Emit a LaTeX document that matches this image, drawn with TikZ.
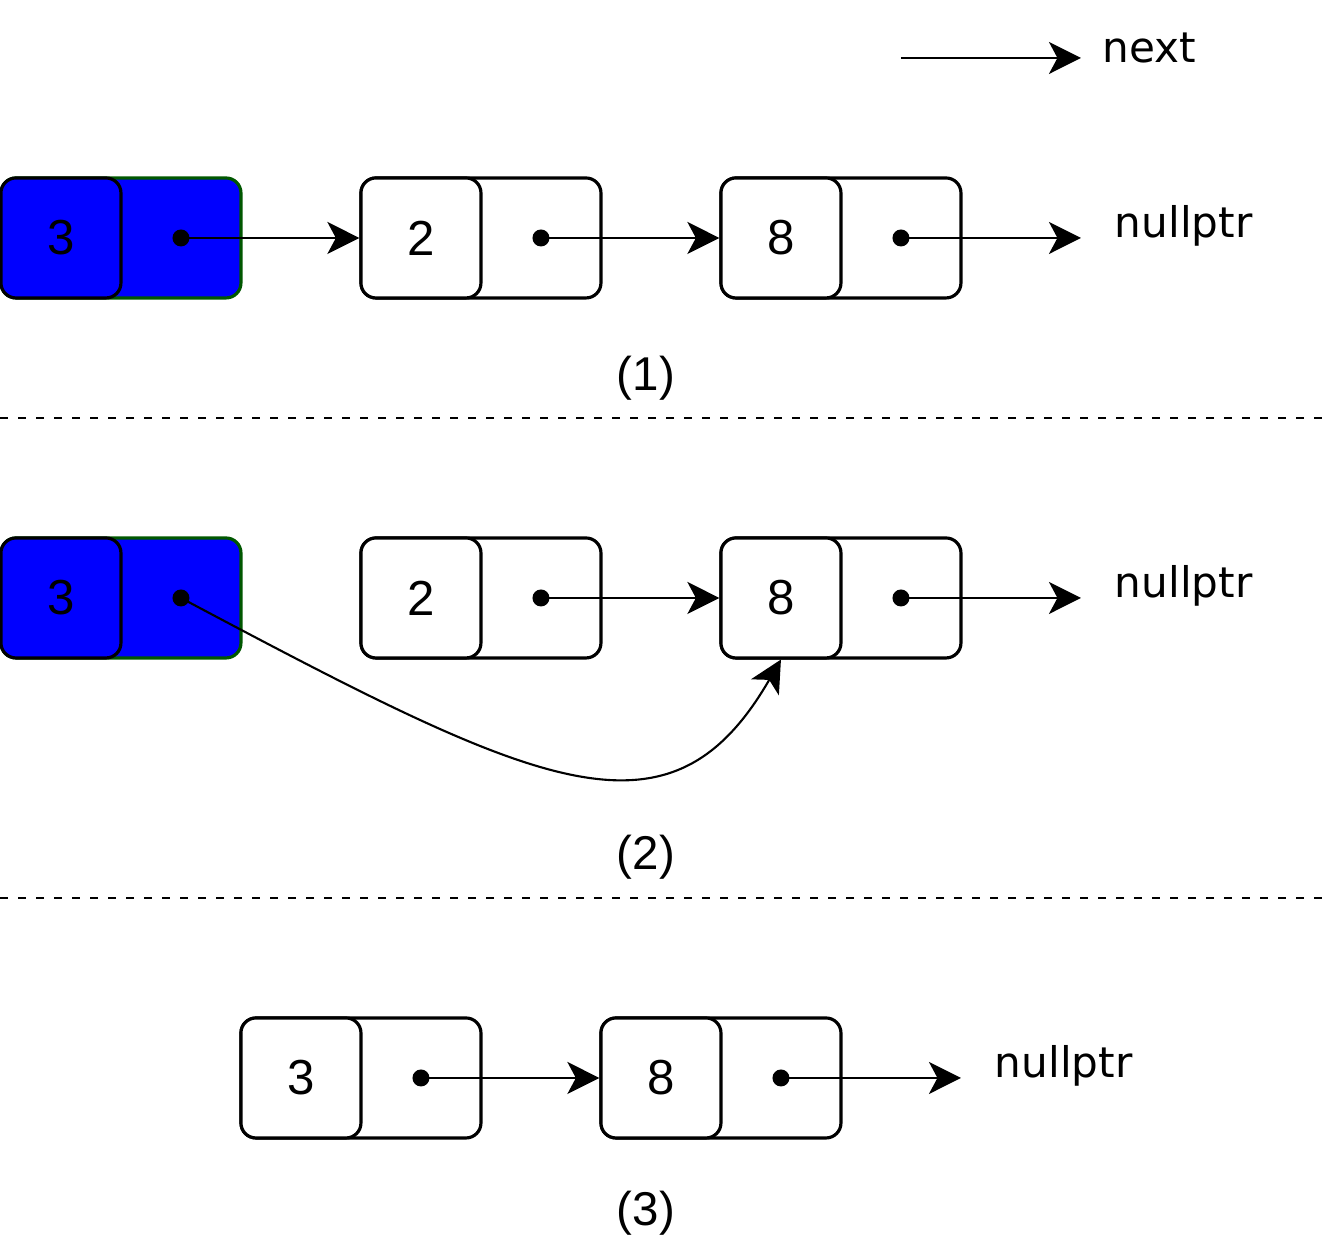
\documentclass[tikz,border=0pt]{standalone}
\usepackage{fontspec}
\setmainfont{Liberation Sans}
\newfontfamily\labelfont{DejaVu Sans}
\usetikzlibrary{arrows.meta}

\definecolor{nodeblue}{HTML}{0000FF}
\definecolor{nodegreen}{HTML}{005700}

\tikzset{
    cell/.style={draw=black, fill=white, line width=1.8pt, rounded corners=0.3cm, minimum width=4.8cm, minimum height=2.4cm},
    val/.style={draw=black, fill=white, line width=1.8pt, rounded corners=0.3cm, minimum size=2.4cm, font=\fontsize{28}{32}\selectfont},
    ptr/.style={circle, fill=black, inner sep=0pt, minimum size=0.34cm},
    link/.style={line width=1.2pt, -{Stealth[length=0.64cm, width=0.64cm, inset=0.17cm]}},
    nulltext/.style={anchor=base west, inner sep=0pt, font=\labelfont\fontsize{24}{28}\selectfont},
    steplabel/.style={font=\fontsize{27}{30}\selectfont},
    sep/.style={line width=1.5pt, dash pattern=on 0.16cm off 0.2cm}
}

\begin{document}
\begin{tikzpicture}[x=2.4cm, y=2.4cm]
    \useasboundingbox (-0.008, 1.983) rectangle (11.067, -8.492);

    % legend
    \coordinate (legA) at (7.5, 1.5);
    \coordinate (legB) at (9, 1.5);
    \node[nulltext] (next) at (9.18, 1.46) {next};
    \draw[link] (legA) -- (legB);

    % (1)
    \node[cell, fill=nodeblue, draw=nodegreen] (n3) at (1, 0) {};
    \node[val, fill=nodeblue] (n3v) at (0.5, 0) {3};
    \node[ptr] (n3p) at (1.5, 0) {};
    \node[cell] (n2) at (4, 0) {};
    \node[val] (n2v) at (3.5, 0) {2};
    \node[ptr] (n2p) at (4.5, 0) {};
    \node[cell] (n8) at (7, 0) {};
    \node[val] (n8v) at (6.5, 0) {8};
    \node[ptr] (n8p) at (7.5, 0) {};
    \coordinate (n8end) at (9, 0);
    \node[nulltext] (null1) at (9.28, 0) {nullptr};
    \node[steplabel] (lab1) at (5.375, -1.167) {(1)};

    \draw[link] (n3p.center) -- (n2.west);
    \draw[link] (n2p.center) -- (n8.west);
    \draw[link] (n8p.center) -- (n8end);

    \draw[sep] (-0.008, -1.5) -- (11.067, -1.5);

    % (2)
    \node[cell, fill=nodeblue, draw=nodegreen] (m3) at (1, -3) {};
    \node[val, fill=nodeblue] (m3v) at (0.5, -3) {3};
    \node[ptr] (m3p) at (1.5, -3) {};
    \node[cell] (m2) at (4, -3) {};
    \node[val] (m2v) at (3.5, -3) {2};
    \node[ptr] (m2p) at (4.5, -3) {};
    \node[cell] (m8) at (7, -3) {};
    \node[val] (m8v) at (6.5, -3) {8};
    \node[ptr] (m8p) at (7.5, -3) {};
    \coordinate (m8end) at (9, -3);
    \node[nulltext] (null2) at (9.28, -3) {nullptr};
    \node[steplabel] (lab2) at (5.375, -5.157) {(2)};

    \draw[link] (m3p.center) .. controls +(-28:3.4) and +(-120:1.85) .. (m8v.south);
    \draw[link] (m2p.center) -- (m8.west);
    \draw[link] (m8p.center) -- (m8end);

    \draw[sep] (-0.008, -5.5) -- (11.067, -5.5);

    % (3)
    \node[cell] (k3) at (3, -7) {};
    \node[val] (k3v) at (2.5, -7) {3};
    \node[ptr] (k3p) at (3.5, -7) {};
    \node[cell] (k8) at (6, -7) {};
    \node[val] (k8v) at (5.5, -7) {8};
    \node[ptr] (k8p) at (6.5, -7) {};
    \coordinate (k8end) at (8, -7);
    \node[nulltext] (null3) at (8.28, -7) {nullptr};
    \node[steplabel] (lab3) at (5.375, -8.125) {(3)};

    \draw[link] (k3p.center) -- (k8.west);
    \draw[link] (k8p.center) -- (k8end);
\end{tikzpicture}
\end{document}
